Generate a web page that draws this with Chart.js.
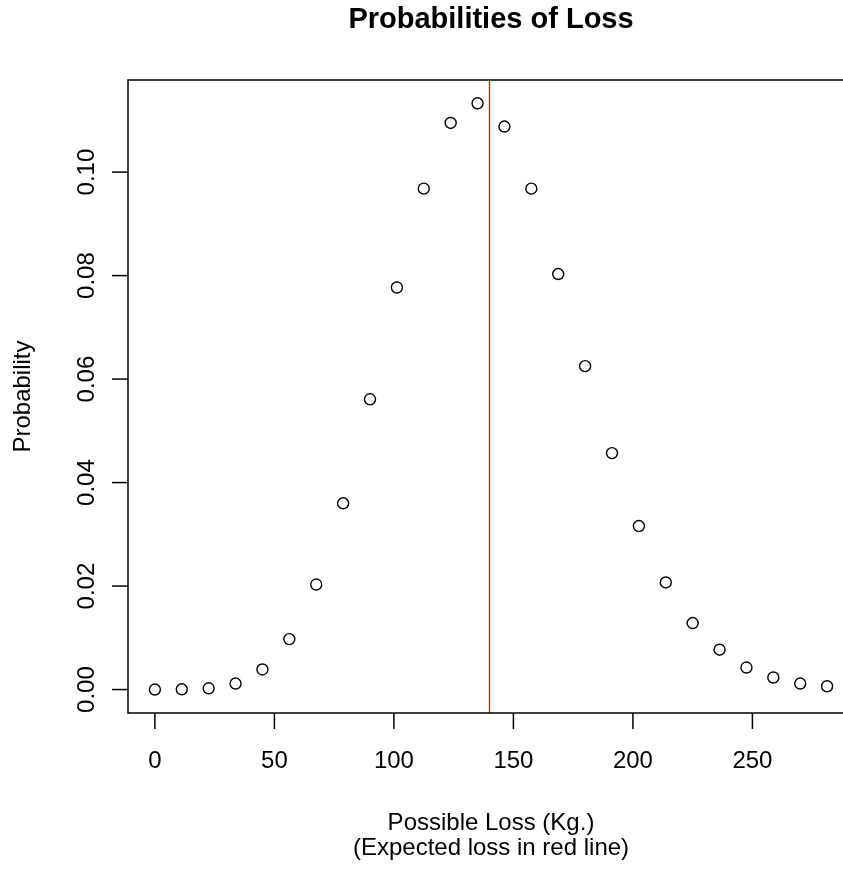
<!DOCTYPE html>
<html>
<head>
<meta charset="utf-8">
<script src="https://cdn.jsdelivr.net/npm/chart.js@4/dist/chart.umd.min.js"></script>
<style>
  html, body { margin: 0; padding: 0; background: #fff; overflow: hidden; }
  canvas { display: block; }
</style>
</head>
<body>
<canvas id="lossChart" width="870" height="869"></canvas>
<script>
// possible loss values (Kg.) and their probabilities
const lossKg = [0, 11.25, 22.5, 33.75, 45, 56.25, 67.5, 78.75, 90, 101.25, 112.5, 123.75, 135,
  146.25, 157.5, 168.75, 180, 191.25, 202.5, 213.75, 225, 236.25, 247.5, 258.75, 270, 281.25];
const probability = [0.0000, 0.00005, 0.00025, 0.00116, 0.00388, 0.00975, 0.0203, 0.0360, 0.0561,
  0.0777, 0.0968, 0.1095, 0.1133, 0.1088, 0.0968, 0.0803, 0.0625, 0.0457, 0.0316, 0.0207,
  0.01285, 0.0077, 0.00426, 0.00233, 0.00116, 0.00064];
const expectedLoss = 140;

const xTicks = [0, 50, 100, 150, 200, 250];
const yTicks = [0, 0.02, 0.04, 0.06, 0.08, 0.10];
const yTickLabels = ["0.00", "0.02", "0.04", "0.06", "0.08", "0.10"];

const chartTitle = "Probabilities of Loss";
const xLabel = ["Possible Loss (Kg.)", "(Expected loss in red line)"];
const yLabel = "Probability";

const FONT = "'Liberation Sans', Arial, Helvetica, sans-serif";

// R style frame, axes and labels
const rFrame = {
  id: "rFrame",
  afterDatasetsDraw(chart) {
    const ctx = chart.ctx;
    const a = chart.chartArea;
    const xs = chart.scales.x, ys = chart.scales.y;
    ctx.save();
    // expected loss line
    const ex = xs.getPixelForValue(expectedLoss);
    ctx.beginPath();
    ctx.strokeStyle = "#ff0000";
    ctx.lineWidth = 1.3;
    ctx.moveTo(ex, a.top);
    ctx.lineTo(ex, a.bottom);
    ctx.stroke();
    ctx.restore();
  },
  afterDraw(chart) {
    const ctx = chart.ctx;
    const a = chart.chartArea;
    const xs = chart.scales.x, ys = chart.scales.y;
    const midX = (a.left + a.right) / 2;
    const midY = (a.top + a.bottom) / 2;
    ctx.save();
    ctx.strokeStyle = "#000";
    ctx.fillStyle = "#000";
    ctx.lineWidth = 1.5;
    ctx.strokeRect(a.left, a.top, a.right - a.left, a.bottom - a.top);

    // x axis
    ctx.font = "24px " + FONT;
    ctx.textAlign = "center";
    ctx.textBaseline = "alphabetic";
    xTicks.forEach(v => {
      const px = xs.getPixelForValue(v);
      ctx.beginPath();
      ctx.moveTo(px, a.bottom);
      ctx.lineTo(px, a.bottom + 16);
      ctx.stroke();
      ctx.fillText(String(v), px, 768);
    });

    // y axis
    yTicks.forEach((v, i) => {
      const py = ys.getPixelForValue(v);
      ctx.beginPath();
      ctx.moveTo(a.left, py);
      ctx.lineTo(a.left - 16, py);
      ctx.stroke();
      ctx.save();
      ctx.translate(94, py);
      ctx.rotate(-Math.PI / 2);
      ctx.fillText(yTickLabels[i], 0, 0);
      ctx.restore();
    });

    // axis titles
    ctx.fillText(xLabel[0], midX, 830);
    ctx.fillText(xLabel[1], midX, 855);
    ctx.save();
    ctx.translate(30, midY);
    ctx.rotate(-Math.PI / 2);
    ctx.fillText(yLabel, 0, 0);
    ctx.restore();

    // main title
    ctx.font = "bold 29px " + FONT;
    ctx.fillText(chartTitle, midX, 28);
    ctx.restore();
  }
};

const ctx = document.getElementById("lossChart").getContext("2d");

new Chart(ctx, {
  type: "scatter",
  data: {
    datasets: [{
      data: lossKg.map((x, i) => ({ x: x, y: probability[i] })),
      pointStyle: "circle",
      pointRadius: 5.5,
      pointBorderWidth: 1.4,
      pointBorderColor: "#000",
      pointBackgroundColor: "rgba(0,0,0,0)"
    }]
  },
  options: {
    responsive: false,
    devicePixelRatio: 1,
    animation: false,
    layout: { padding: { left: 128, top: 80, right: 16, bottom: 156 } },
    plugins: {
      legend: { display: false },
      tooltip: { enabled: false },
      title: { display: false }
    },
    scales: {
      x: { type: "linear", display: false, min: -11.25, max: 292.5 },
      y: { type: "linear", display: false, min: -0.00453, max: 0.1178 }
    }
  },
  plugins: [rFrame]
});
</script>
</body>
</html>
